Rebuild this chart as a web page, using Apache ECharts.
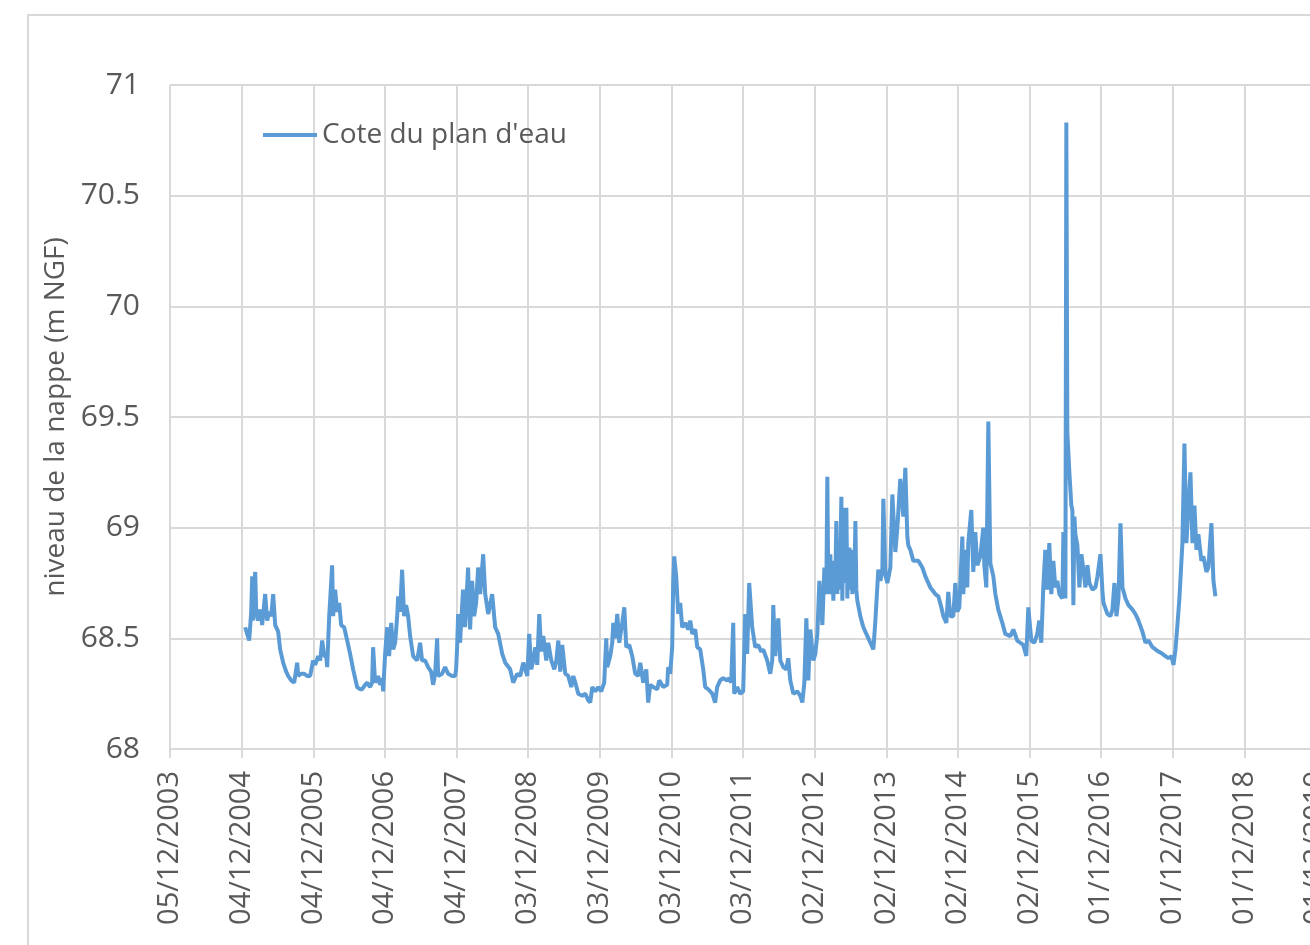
<!DOCTYPE html>
<html>
<head>
<meta charset="utf-8">
<script src="https://cdn.jsdelivr.net/npm/echarts@6/dist/echarts.min.js"></script>
<style>
  html, body { margin: 0; padding: 0; overflow: hidden; background: #fff; }
  #main { width: 1400px; height: 945px; }
</style>
</head>
<body>
<div id="main"></div>
<script>
// dates en années décimales, niveaux en m NGF
const annees = [
  2004.973, 2005.001, 2005.029, 2005.057, 2005.071, 2005.085, 2005.113, 2005.127, 2005.155, 2005.182,
  2005.210, 2005.252, 2005.280, 2005.308, 2005.336, 2005.364, 2005.392, 2005.434, 2005.461, 2005.503,
  2005.545, 2005.573, 2005.615, 2005.657, 2005.699, 2005.713, 2005.754, 2005.796, 2005.838, 2005.880,
  2005.922, 2005.950, 2005.992, 2006.020, 2006.048, 2006.076, 2006.104, 2006.118, 2006.146, 2006.159,
  2006.187, 2006.201, 2006.229, 2006.257, 2006.285, 2006.313, 2006.355, 2006.397, 2006.438, 2006.480,
  2006.536, 2006.578, 2006.606, 2006.648, 2006.676, 2006.717, 2006.745, 2006.759, 2006.787, 2006.829,
  2006.857, 2006.885, 2006.899, 2006.927, 2006.955, 2006.983, 2007.011, 2007.039, 2007.067, 2007.095,
  2007.109, 2007.136, 2007.164, 2007.192, 2007.220, 2007.248, 2007.276,
  2007.318, 2007.374, 2007.415, 2007.443, 2007.485, 2007.527, 2007.569, 2007.597, 2007.625, 2007.653,
  2007.667, 2007.722, 2007.764, 2007.806, 2007.862, 2007.904, 2007.918, 2007.932, 2007.946, 2007.973,
  2008.015, 2008.043, 2008.085, 2008.113, 2008.141, 2008.169, 2008.197, 2008.225, 2008.253, 2008.295,
  2008.323, 2008.365, 2008.420, 2008.462, 2008.504, 2008.560, 2008.602, 2008.671, 2008.713, 2008.769,
  2008.811, 2008.853, 2008.909, 2008.936, 2008.964, 2008.992, 2009.020, 2009.048, 2009.076, 2009.104,
  2009.132, 2009.174, 2009.202, 2009.244, 2009.286, 2009.314, 2009.342, 2009.369, 2009.397, 2009.439,
  2009.481, 2009.523, 2009.551, 2009.579, 2009.621,
  2009.676, 2009.718, 2009.760, 2009.788, 2009.816, 2009.858, 2009.900, 2009.941, 2009.983, 2010.011,
  2010.025, 2010.067, 2010.095, 2010.109, 2010.137, 2010.165, 2010.193, 2010.235, 2010.263, 2010.291,
  2010.333, 2010.374, 2010.416, 2010.458, 2010.486, 2010.528, 2010.570, 2010.597, 2010.625, 2010.667,
  2010.723, 2010.751, 2010.807, 2010.862, 2010.876, 2010.904, 2010.932, 2010.946, 2010.960, 2010.988,
  2011.016, 2011.044, 2011.072, 2011.114, 2011.156, 2011.184, 2011.212, 2011.254, 2011.282, 2011.323,
  2011.365, 2011.393, 2011.435, 2011.491, 2011.532, 2011.560, 2011.602, 2011.644, 2011.700, 2011.728,
  2011.756, 2011.784, 2011.798, 2011.840, 2011.881, 2011.923,
  2011.951, 2011.979, 2012.007, 2012.049, 2012.091, 2012.133, 2012.174, 2012.202, 2012.258, 2012.300,
  2012.328, 2012.342, 2012.370, 2012.412, 2012.440, 2012.482, 2012.523, 2012.551, 2012.579, 2012.621,
  2012.677, 2012.719, 2012.747, 2012.775, 2012.803, 2012.830, 2012.858, 2012.900, 2012.928, 2012.956,
  2012.984, 2013.026, 2013.054,
  2013.081, 2013.095, 2013.109, 2013.123, 2013.137, 2013.151, 2013.165, 2013.179, 2013.193, 2013.207,
  2013.221, 2013.235, 2013.249, 2013.263, 2013.277, 2013.291, 2013.305, 2013.319, 2013.333, 2013.347,
  2013.361, 2013.375, 2013.389, 2013.403, 2013.417, 2013.431, 2013.445, 2013.459, 2013.473, 2013.487,
  2013.500, 2013.514,
  2013.556, 2013.598, 2013.654, 2013.696, 2013.738, 2013.766, 2013.807, 2013.835, 2013.863, 2013.877,
  2013.905, 2013.933, 2013.975, 2014.003, 2014.045, 2014.073, 2014.114, 2014.156, 2014.184, 2014.212,
  2014.226,
  2014.254, 2014.296, 2014.366, 2014.422, 2014.464, 2014.533, 2014.603, 2014.645, 2014.687, 2014.715,
  2014.757, 2014.784, 2014.812, 2014.854, 2014.882, 2014.910, 2014.938, 2014.980, 2014.994, 2015.021,
  2015.049, 2015.063, 2015.105, 2015.133, 2015.161, 2015.189, 2015.231, 2015.273, 2015.287, 2015.315,
  2015.343, 2015.371, 2015.413, 2015.441, 2015.482, 2015.538, 2015.580, 2015.650, 2015.692, 2015.747,
  2015.789, 2015.831, 2015.873, 2015.901, 2015.943, 2015.985, 2016.026, 2016.054, 2016.082,
  2016.110, 2016.138, 2016.166, 2016.194, 2016.222, 2016.250, 2016.278, 2016.306, 2016.334, 2016.376,
  2016.390, 2016.418, 2016.431, 2016.445, 2016.473, 2016.501, 2016.515, 2016.529, 2016.543, 2016.557,
  2016.585, 2016.613, 2016.641, 2016.669, 2016.697, 2016.725, 2016.752, 2016.794, 2016.836, 2016.864,
  2016.906, 2016.934, 2016.948, 2017.003, 2017.045, 2017.073, 2017.101, 2017.129, 2017.157, 2017.185,
  2017.213, 2017.255, 2017.297, 2017.353, 2017.394, 2017.436, 2017.492, 2017.534, 2017.576, 2017.632,
  2017.674, 2017.715, 2017.771, 2017.813, 2017.855, 2017.897, 2017.925, 2017.953, 2017.980, 2018.008,
  2018.050, 2018.078, 2018.106, 2018.134, 2018.162, 2018.190, 2018.218, 2018.246, 2018.273, 2018.315,
  2018.343, 2018.385, 2018.413, 2018.455, 2018.483, 2018.511
];

const cote = [
  68.55, 68.52, 68.49, 68.62, 68.78, 68.58, 68.80, 68.62, 68.58, 68.63,
  68.56, 68.70, 68.58, 68.62, 68.60, 68.70, 68.56, 68.53, 68.45, 68.39,
  68.35, 68.33, 68.31, 68.30, 68.39, 68.33, 68.34, 68.34, 68.33, 68.33,
  68.40, 68.38, 68.42, 68.40, 68.49, 68.42, 68.42, 68.37, 68.60, 68.67,
  68.83, 68.60, 68.72, 68.62, 68.66, 68.56, 68.55, 68.49, 68.43, 68.36,
  68.28, 68.27, 68.27, 68.29, 68.30, 68.28, 68.30, 68.46, 68.30, 68.33,
  68.29, 68.32, 68.26, 68.43, 68.55, 68.42, 68.57, 68.45, 68.48, 68.60,
  68.69, 68.62, 68.81, 68.60, 68.65, 68.60, 68.51,
  68.42, 68.40, 68.48, 68.40, 68.40, 68.37, 68.35, 68.29, 68.34, 68.50,
  68.33, 68.34, 68.37, 68.34, 68.33, 68.33, 68.36, 68.46, 68.61, 68.48,
  68.72, 68.55, 68.82, 68.54, 68.76, 68.60, 68.66, 68.82, 68.70, 68.88,
  68.70, 68.61, 68.70, 68.55, 68.52, 68.43, 68.39, 68.36, 68.30, 68.34,
  68.33, 68.39, 68.33, 68.52, 68.36, 68.40, 68.46, 68.38, 68.61, 68.44,
  68.51, 68.40, 68.48, 68.40, 68.36, 68.40, 68.49, 68.35, 68.47, 68.34,
  68.33, 68.28, 68.33, 68.30, 68.25,
  68.24, 68.25, 68.22, 68.21, 68.28, 68.26, 68.28, 68.26, 68.30, 68.50,
  68.37, 68.42, 68.48, 68.57, 68.50, 68.61, 68.48, 68.57, 68.64, 68.46,
  68.47, 68.42, 68.34, 68.33, 68.39, 68.30, 68.36, 68.21, 68.29, 68.28,
  68.27, 68.31, 68.28, 68.29, 68.37, 68.34, 68.46, 68.75, 68.87, 68.78,
  68.61, 68.66, 68.55, 68.57, 68.54, 68.58, 68.52, 68.54, 68.46, 68.45,
  68.36, 68.28, 68.27, 68.25, 68.21, 68.28, 68.31, 68.32, 68.31, 68.32,
  68.30, 68.57, 68.25, 68.28, 68.25, 68.26,
  68.61, 68.43, 68.75, 68.55, 68.46, 68.47, 68.44, 68.45, 68.40, 68.34,
  68.40, 68.65, 68.42, 68.59, 68.40, 68.37, 68.36, 68.41, 68.31, 68.25,
  68.26, 68.24, 68.21, 68.30, 68.59, 68.31, 68.54, 68.40, 68.43, 68.52,
  68.76, 68.56, 68.82,
  68.70, 69.23, 68.74, 68.70, 68.88, 68.72, 68.85, 68.67, 68.80, 68.74,
  69.03, 68.70, 68.91, 68.72, 68.86, 69.14, 68.67, 69.09, 68.75, 68.90,
  69.09, 68.68, 68.88, 68.91, 68.72, 68.85, 68.70, 68.90, 68.75, 69.03,
  68.72, 68.67,
  68.60, 68.55, 68.51, 68.48, 68.45, 68.58, 68.81, 68.76, 68.80, 69.13,
  68.79, 68.75, 68.82, 69.15, 68.89, 69.00, 69.22, 69.05, 69.27, 68.96,
  68.92,
  68.90, 68.85, 68.85, 68.82, 68.78, 68.73, 68.70, 68.69, 68.64, 68.60,
  68.57, 68.71, 68.60, 68.60, 68.75, 68.62, 68.64, 68.96, 68.70, 68.90,
  68.73, 68.93, 69.08, 68.80, 68.98, 68.83, 68.87, 69.00, 68.83, 68.73,
  69.48, 68.84, 68.78, 68.70, 68.63, 68.57, 68.52, 68.51, 68.54, 68.49,
  68.48, 68.47, 68.42, 68.64, 68.49, 68.48, 68.52, 68.58, 68.48,
  68.73, 68.90, 68.72, 68.93, 68.70, 68.85, 68.73, 68.76, 68.70, 68.68,
  68.98, 68.68, 70.83, 69.43, 69.25, 69.10, 69.08, 68.65, 69.05, 68.97,
  68.92, 68.73, 68.88, 68.81, 68.73, 68.83, 68.75, 68.72, 68.73, 68.78,
  68.88, 68.71, 68.66, 68.61, 68.60, 68.63, 68.75, 68.60, 68.68, 69.02,
  68.73, 68.68, 68.65, 68.63, 68.61, 68.58, 68.53, 68.48, 68.49, 68.46,
  68.45, 68.44, 68.43, 68.42, 68.41, 68.42, 68.38, 68.45, 68.56, 68.68,
  68.93, 69.38, 68.93, 69.10, 69.25, 68.93, 69.10, 68.90, 68.97, 68.85,
  68.87, 68.80, 68.82, 69.02, 68.76, 68.69
];

const yTicks = { min: 68, max: 71, step: 0.5 };
const nbAnnees = 16; // graduations de 365 jours à partir du 05/12/2003

const DAY = 86400000;
const BASE = Date.UTC(2003, 11, 5);

function versJours(t) {
  const y = Math.floor(t);
  const a = Date.UTC(y, 0, 1), b = Date.UTC(y + 1, 0, 1);
  return (a + (t - y) * (b - a) - BASE) / DAY;
}
function pad(n) { return n < 10 ? '0' + n : '' + n; }
function formatDate(v) {
  const d = new Date(BASE + v * DAY);
  return pad(d.getUTCDate()) + '/' + pad(d.getUTCMonth() + 1) + '/' + d.getUTCFullYear();
}

const serie = annees.map((t, i) => [versJours(t), cote[i]]);

const chart = echarts.init(document.getElementById('main'));
const gris = '#d9d9d9';
const bleu = '#5b9bd5';
const police = '"Open Sans", "Noto Sans", sans-serif';

chart.setOption({
  animation: false,
  backgroundColor: '#fff',
  textStyle: { fontFamily: police },
  graphic: [{
    type: 'rect',
    shape: { x: 28, y: 15, width: 1500, height: 1000 },
    style: { fill: 'none', stroke: gris, lineWidth: 2 },
    silent: true
  }],
  legend: {
    left: 258,
    top: 116,
    icon: 'rect',
    itemWidth: 54,
    itemHeight: 4,
    itemGap: 5,
    textStyle: { fontSize: 28, color: '#595959', fontFamily: police },
    data: ["Cote du plan d'eau"]
  },
  grid: { left: 170, top: 85, width: 1146, height: 664 },
  xAxis: {
    type: 'value',
    min: 0,
    max: 365 * nbAnnees,
    interval: 365,
    axisLine: { show: true, lineStyle: { color: gris, width: 2 } },
    axisTick: { show: true, length: 9, lineStyle: { color: gris, width: 2 } },
    splitLine: { show: true, lineStyle: { color: gris, width: 2 } },
    axisLabel: {
      rotate: 90,
      margin: 22,
      fontSize: 29,
      color: '#595959',
      fontFamily: police,
      showMinLabel: true,
      showMaxLabel: true,
      formatter: formatDate
    }
  },
  yAxis: {
    type: 'value',
    min: yTicks.min,
    max: yTicks.max,
    interval: yTicks.step,
    name: 'niveau de la nappe (m NGF)',
    nameLocation: 'middle',
    nameRotate: 90,
    nameGap: 93,
    nameTextStyle: { fontSize: 28, color: '#595959', fontFamily: police },
    axisLine: { show: false },
    axisTick: { show: false },
    splitLine: { show: true, lineStyle: { color: gris, width: 2 } },
    axisLabel: { fontSize: 30, color: '#595959', margin: 30, fontFamily: police }
  },
  series: [{
    name: "Cote du plan d'eau",
    type: 'line',
    data: serie,
    showSymbol: false,
    symbol: 'none',
    lineStyle: { color: bleu, width: 4 },
    itemStyle: { color: bleu }
  }]
});
</script>
</body>
</html>
